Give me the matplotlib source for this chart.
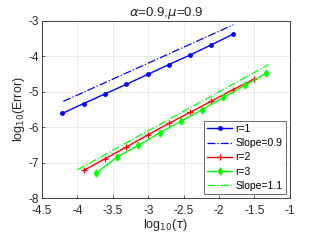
import numpy as np
import matplotlib
matplotlib.use("Agg")
import matplotlib.pyplot as plt

plt.rcParams['font.family'] = ['Liberation Sans', 'DejaVu Sans']
plt.rcParams['mathtext.fontset'] = 'dejavusans'

x_r1 = [-4.214, -3.913, -3.612, -3.311, -3.010, -2.709, -2.408, -2.107, -1.806]
y_r1 = [-5.61, -5.33, -5.06, -4.79, -4.51, -4.23, -3.96, -3.67, -3.38]
x_s09 = [-4.2, -1.8]
y_s09 = [-5.27, -3.11]
x_r2 = [-3.913, -3.612, -3.311, -3.010, -2.709, -2.408, -2.107, -1.806, -1.505]
y_r2 = [-7.22, -6.89, -6.56, -6.22, -5.89, -5.58, -5.26, -4.94, -4.64]
x_r3 = [-3.74, -3.44, -3.14, -2.84, -2.54, -2.24, -1.94, -1.64, -1.335]
y_r3 = [-7.30, -6.84, -6.51, -6.16, -5.83, -5.50, -5.16, -4.82, -4.47]
x_s11 = [-4.0, -1.3]
y_s11 = [-7.20, -4.23]

xticks = [-4.5, -4, -3.5, -3, -2.5, -2, -1.5, -1]
xticklabels = ['-4.5', '-4', '-3.5', '-3', '-2.5', '-2', '-1.5', '-1']
yticks = [-8, -7, -6, -5, -4, -3]
yticklabels = ['-8', '-7', '-6', '-5', '-4', '-3']

fig = plt.figure(figsize=(3.21, 2.41), dpi=100)
ax = fig.add_axes([0.131, 0.178, 0.772, 0.735])

ax.plot(x_r1, y_r1, '-', color='#0000ff', marker='o', markersize=2.5, lw=1.0, label='r=1')
ax.plot(x_s09, y_s09, '-.', color='#0000ff', lw=0.9, label='Slope=0.9')
ax.plot(x_r2, y_r2, '-', color='#ff0000', marker='+', markersize=4, mew=0.9, lw=1.0, label='r=2')
ax.plot(x_r3, y_r3, '-', color='#00ff00', marker='d', markersize=3.5, lw=1.0, label='r=3')
ax.plot(x_s11, y_s11, '-.', color='#00ff00', lw=0.9, label='Slope=1.1')

ax.set_xlim(-4.5, -1)
ax.set_ylim(-8, -3)
ax.set_xticks(xticks)
ax.set_xticklabels(xticklabels)
ax.set_yticks(yticks)
ax.set_yticklabels(yticklabels)
ax.grid(True, color='#e6e6e6', lw=0.6)
ax.set_axisbelow(True)
ax.tick_params(direction='in', length=2.5, width=0.5, labelsize=8.5, colors='#262626')
ax.tick_params(axis='x', pad=5)
ax.tick_params(axis='y', pad=2.5)
for s in ax.spines.values():
    s.set_linewidth(0.6)
    s.set_color('#262626')

ax.set_xlabel(r'log$_{10}$($\tau$)', fontsize=9, labelpad=0, color='#262626')
ax.set_ylabel(r'log$_{10}$(Error)', fontsize=9, labelpad=1, color='#262626')
ax.set_title(r'$\alpha$=0.9,$\mu$=0.9', fontsize=9.5, pad=3, color='#262626')

leg = ax.legend(loc='lower right', fontsize=7.5, frameon=True, fancybox=False,
                edgecolor='#262626', handlelength=2.4, handletextpad=0.3,
                borderpad=0.3, labelspacing=0.4, borderaxespad=0.4)
leg.get_frame().set_linewidth(0.6)

fig.savefig('out.png', dpi=100)
